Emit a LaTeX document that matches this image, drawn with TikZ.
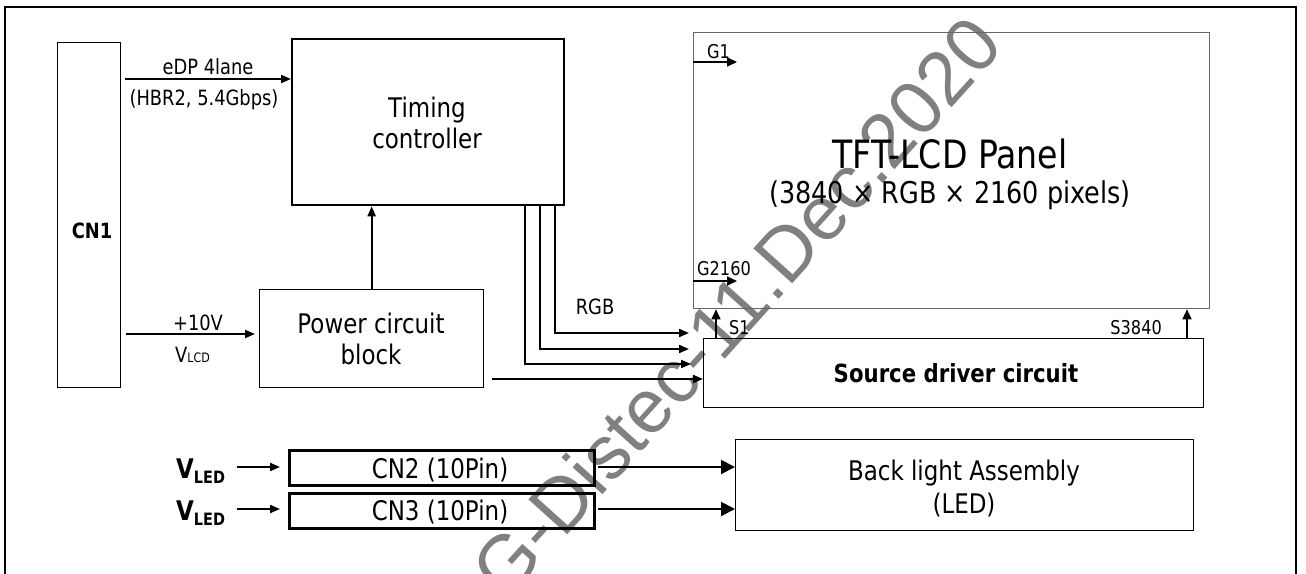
\documentclass[tikz,border=0pt]{standalone}
\usepackage{fontspec}
\setmainfont{DejaVu Sans}[FakeStretch=0.85]
\newfontfamily\wmfont{Liberation Sans}
\usetikzlibrary{arrows.meta}
\newcommand\fsz[1]{\fontsize{#1}{#1}\selectfont}
\begin{document}
\begin{tikzpicture}[x=1pt,y=-1pt,
  tbox/.style={draw, line width=1.3pt, inner sep=0pt, anchor=north west},
  kbox/.style={draw, line width=2.5pt, inner sep=0pt, anchor=north west},
  lbl/.style={inner sep=0pt, anchor=base},
  arr/.style={line width=2pt, -{Triangle[length=10pt,width=8pt]}},
  sarr/.style={line width=1.6pt, -{Triangle[length=10pt,width=9pt]}},
  barr/.style={line width=2pt, -{Triangle[length=14pt,width=14pt]}},
  conn/.style={line width=2pt}]
\useasboundingbox (0,0) rectangle (1306,573);
\fill[white] (0,0) rectangle (1306,573);
% watermark
\node[font=\wmfont\fsz{76}, text=black!50, rotate=48, inner sep=0pt] (wm) at (722,322) {LG-Distec-11.Dec.2020};
% frame
\draw[line width=2.6pt] (5,7) rectangle (1296,600);
% CN1
\node[tbox, minimum width=63pt, minimum height=345pt] (cn1) at (57,42) {};
\node[lbl, font=\bfseries\fsz{21}] (cn1t) at (92,238) {CN1};
% timing controller
\node[kbox, line width=2.3pt, minimum width=272pt, minimum height=166pt] (tc) at (291,38) {};
\node[lbl, font=\fsz{27}] (tct1) at (427,117) {Timing};
\node[lbl, font=\fsz{27}] (tct2) at (427,148) {controller};
% eDP
\coordinate (edpS) at (125,79);
\draw[arr] (edpS) -- (edpS -| tc.west);
\node[lbl, font=\fsz{21}] (edp1) at (208,74) {eDP 4lane};
\node[lbl, font=\fsz{21}] (edp2) at (204,105) {(HBR2, 5.4Gbps)};
% power block
\node[tbox, minimum width=224pt, minimum height=98pt] (pw) at (259,289) {};
\node[lbl, font=\fsz{27}] (pwt1) at (371,333) {Power circuit};
\node[lbl, font=\fsz{27}] (pwt2) at (371,364) {block};
\draw[arr] (pw.north) -- (pw.north |- tc.south);
% +10V
\coordinate (pvS) at (126,334);
\coordinate (pvE) at (255,334);
\draw[arr] (pvS) -- (pvE);
\node[lbl, font=\fsz{21}] (pv1) at (198,330) {+10V};
\node[lbl, anchor=base west, font=\fsz{21}] (pv2) at (175,362) {V{\fsz{13}LCD}};
% panel
\node[draw=black!60, line width=1.3pt, inner sep=0pt, anchor=north west, minimum width=516pt, minimum height=276pt] (panel) at (693,32) {};
\coordinate (g1e) at (737,62);
\draw[sarr] (g1e -| panel.west) -- (g1e);
\node[lbl, anchor=base west, font=\fsz{19}] (g1t) at (707,58) {G1};
\coordinate (g2e) at (737,281);
\draw[sarr] (g2e -| panel.west) -- (g2e);
\node[lbl, anchor=base west, font=\fsz{19}] (g2t) at (697,275) {G2160};
\node[lbl, font=\fsz{39}] (pt1) at (950,168) {TFT-LCD Panel};
\node[lbl, font=\fsz{30}] (pt2) at (950,203) {(3840 × RGB × 2160 pixels)};
% source driver
\node[tbox, minimum width=500pt, minimum height=69pt] (sd) at (703,338) {};
\node[lbl, font=\bfseries\fsz{25}] (sdt) at (956,382) {Source driver circuit};
\coordinate (s1x) at (716,320);
\draw[sarr] (s1x |- sd.north) -- (s1x |- panel.south);
\coordinate (s2x) at (1187,320);
\draw[sarr] (s2x |- sd.north) -- (s2x |- panel.south);
\node[lbl, anchor=base west, font=\fsz{19}] (s1t) at (729,334) {S1};
\node[lbl, anchor=base east, font=\fsz{19}] (s2t) at (1162,334) {S3840};
% RGB buses
\coordinate (ra) at (555,333); \coordinate (rae) at (689,333);
\coordinate (rb) at (540,349); \coordinate (rbe) at (689,349);
\coordinate (rc) at (525,364); \coordinate (rce) at (691,364);
\draw[arr] (ra |- tc.south) |- (rae);
\draw[arr] (rb |- tc.south) |- (rbe);
\draw[arr] (rc |- tc.south) |- (rce);
\coordinate (po) at (492,379);
\draw[arr] (po) -- (po -| sd.west);
\node[lbl, font=\fsz{21}] (rgbt) at (595,314) {RGB};
% CN2 / CN3
\node[kbox, minimum width=305pt, minimum height=35pt] (cn2) at (288,449) {};
\node[kbox, minimum width=305pt, minimum height=35pt] (cn3) at (288,492) {};
\node[lbl, font=\fsz{27}] (cn2t) at (440,478) {CN2 (10Pin)};
\node[lbl, font=\fsz{27}] (cn3t) at (440,520) {CN3 (10Pin)};
\node[lbl, anchor=base west, font=\bfseries\fsz{27}] (vl1) at (176,478) {V\raisebox{-5pt}{\fsz{17}LED}};
\node[lbl, anchor=base west, font=\bfseries\fsz{27}] (vl2) at (176,520) {V\raisebox{-5pt}{\fsz{17}LED}};
\coordinate (v1) at (237,467); \coordinate (v1e) at (280,467);
\coordinate (v2) at (237,509); \coordinate (v2e) at (280,509);
\draw[arr] (v1) -- (v1e);
\draw[arr] (v2) -- (v2e);
% backlight
\node[tbox, minimum width=458pt, minimum height=91pt] (bl) at (735,439) {};
\node[lbl, font=\fsz{27}] (blt1) at (964,480) {Back light Assembly};
\node[lbl, font=\fsz{27}] (blt2) at (964,513) {(LED)};
\coordinate (b1) at (598,467);
\coordinate (b2) at (598,509);
\draw[barr] (b1) -- (b1 -| bl.west);
\draw[barr] (b2) -- (b2 -| bl.west);
\end{tikzpicture}
\end{document}
